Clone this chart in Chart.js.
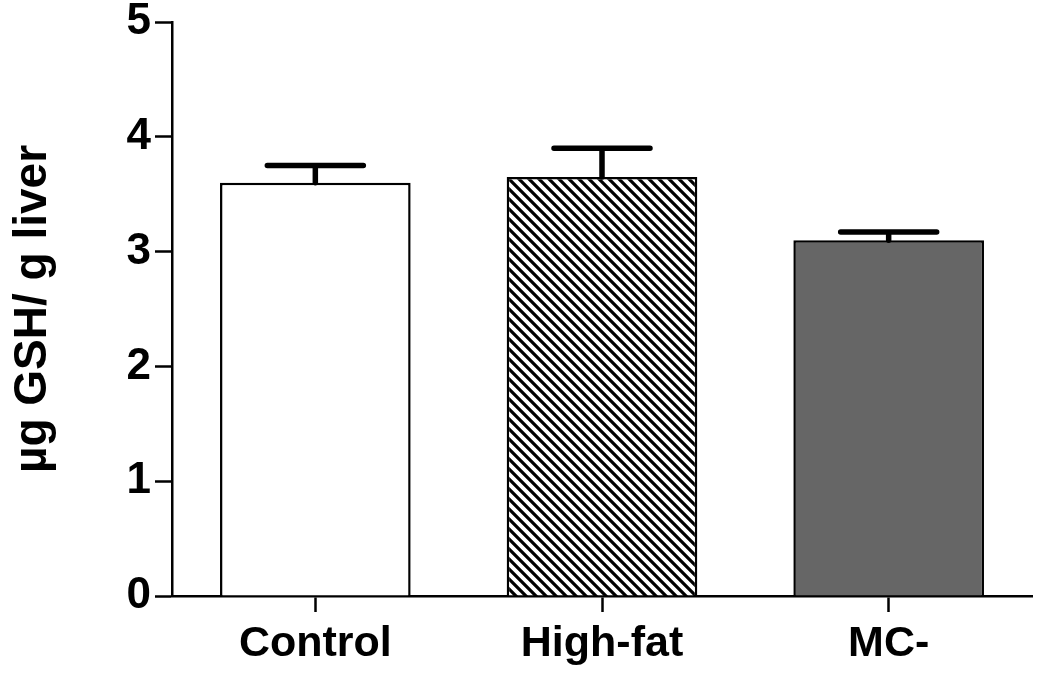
<!DOCTYPE html>
<html lang="en">

<head>
    <meta charset="UTF-8">
    <title>GSH in liver</title>
    <script src="https://cdn.jsdelivr.net/npm/chart.js"></script>
    <style>
        body { margin: 0; background: #fff; }
        #wrap { width: 1050px; height: 676px; position: relative; }
    </style>
</head>

<body>
    <div id="wrap">
        <canvas id="gshChart"></canvas>
    </div>
    <script>
        const groups = ['Control', 'High-fat', 'MC-'];
        const means = [3.60, 3.65, 3.10];
        const errors = [0.15, 0.25, 0.07];
        const yTicks = [0, 1, 2, 3, 4, 5];

        // diagonal hatch for the High-fat bar
        function makeHatch() {
            const c = document.createElement('canvas');
            c.width = 10; c.height = 10;
            const g = c.getContext('2d');
            g.fillStyle = '#fff';
            g.fillRect(0, 0, 10, 10);
            g.strokeStyle = '#000';
            g.lineWidth = 3.2;
            g.beginPath();
            g.moveTo(-1, -1); g.lineTo(11, 11);
            g.moveTo(-3, 7); g.lineTo(3, 13);
            g.moveTo(7, -3); g.lineTo(13, 3);
            g.stroke();
            return g.createPattern(c, 'repeat');
        }

        const fillColors = ['#ffffff', makeHatch(), '#666666'];

        // upper error bars
        const errorBars = {
            id: 'errorBars',
            afterDatasetsDraw(chart) {
                const ctx = chart.ctx;
                const y = chart.scales.y;
                const meta = chart.getDatasetMeta(0);
                ctx.save();
                ctx.strokeStyle = '#000';
                ctx.lineWidth = 5.5;
                ctx.lineCap = 'round';
                meta.data.forEach((bar, i) => {
                    const top = y.getPixelForValue(means[i] + errors[i]);
                    ctx.beginPath();
                    ctx.moveTo(bar.x, bar.y);
                    ctx.lineTo(bar.x, top);
                    ctx.moveTo(bar.x - 48, top);
                    ctx.lineTo(bar.x + 48, top);
                    ctx.stroke();
                });
                ctx.restore();
            }
        };

        const font = { family: "'Liberation Sans', Arial, sans-serif", weight: 'bold' };

        const config = {
            type: 'bar',
            data: {
                labels: groups,
                datasets: [{
                    data: means,
                    backgroundColor: fillColors,
                    borderColor: '#000',
                    borderWidth: 2.5,
                    borderSkipped: 'bottom',
                    categoryPercentage: 1,
                    barPercentage: 0.665
                }]
            },
            options: {
                responsive: true,
                maintainAspectRatio: false,
                animation: false,
                layout: { padding: { top: 0, right: 18, left: 0, bottom: 0 } },
                plugins: {
                    legend: { display: false },
                    tooltip: { enabled: false }
                },
                scales: {
                    x: {
                        offset: true,
                        grid: {
                            display: true,
                            drawOnChartArea: false,
                            offset: false,
                            tickLength: 16,
                            tickColor: '#000',
                            tickWidth: 2.5
                        },
                        border: { color: '#000', width: 2.5 },
                        ticks: {
                            color: '#000',
                            padding: 6,
                            font: { ...font, size: 43 }
                        },
                        afterFit(s) { s.height = 80; }
                    },
                    y: {
                        min: 0,
                        max: 5,
                        afterBuildTicks(s) { s.ticks = yTicks.map(v => ({ value: v })); },
                        grid: {
                            drawOnChartArea: false,
                            tickLength: 17,
                            tickColor: '#000',
                            tickWidth: 2.5
                        },
                        border: { color: '#000', width: 2.5 },
                        ticks: {
                            color: '#000',
                            padding: 4,
                            font: { ...font, size: 44, lineHeight: 0.82 }
                        },
                        title: {
                            display: true,
                            text: 'µg GSH/ g liver',
                            color: '#000',
                            padding: { top: 6, bottom: 0 },
                            font: { ...font, size: 46 }
                        },
                        afterFit(s) { s.width = 172; }
                    }
                }
            },
            plugins: [errorBars]
        };

        const ctx = document.querySelector('#gshChart').getContext('2d');
        const gshChart = new Chart(ctx, config);
    </script>
</body>

</html>
